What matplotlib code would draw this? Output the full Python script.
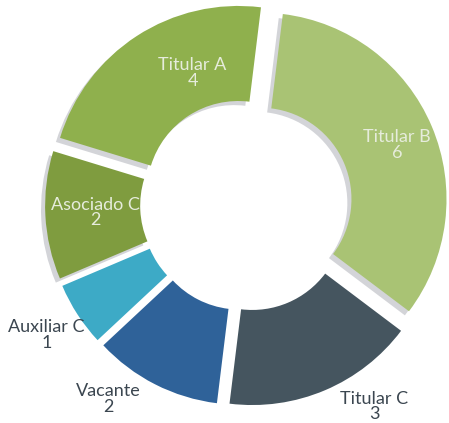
import numpy as np
import matplotlib.pyplot as plt

labels = ['Titular B', 'Titular C', 'Vacante', 'Auxiliar C', 'Asociado C', 'Titular A']
values = [6, 3, 2, 1, 2, 4]
colors = ['#A9C374', '#45555F', '#2F6299', '#3DAAC6', '#7F9C3F', '#8FB04D']
has_shadow = [True, False, False, False, True, True]
inside = [True, False, False, False, True, True]

start = 83
expl = 0.08
explode = [expl] * len(values)
ring = 0.51

fig = plt.figure(figsize=(4.49, 4.23), dpi=100)
ax = fig.add_axes([0, 0, 1, 1])

# soft grey shadow behind the green slices
shadow_cols = ['#D3D4D8' if s else 'none' for s in has_shadow]
ax.pie(values, colors=shadow_cols, startangle=start, counterclock=False,
       explode=explode, center=(-0.022, -0.022),
       wedgeprops=dict(width=ring, linewidth=0))

ax.pie(values, colors=colors, startangle=start, counterclock=False,
       explode=explode, wedgeprops=dict(width=ring, linewidth=0))

# label placement (angle nudge in degrees, distance from slice centre)
nudge = [-1.5, 10, -9, 0, 0, -12]
dist = [0.79, 1.2, 1.2, 1.2, 0.73, 0.685]
total = sum(values)
cum = np.cumsum(values)
for i, (lab, v) in enumerate(zip(labels, values)):
    mid = np.deg2rad(start - 360 * (cum[i] - v / 2) / total)
    cx, cy = expl * np.cos(mid), expl * np.sin(mid)
    ang = mid + np.deg2rad(nudge[i])
    col = '#E6ECDC' if inside[i] else '#3B4650'
    ax.text(cx + dist[i] * np.cos(ang), cy + dist[i] * np.sin(ang), f'{lab}\n{v}',
            ha='center', va='center', color=col, fontsize=13,
            family='Lato', linespacing=0.95)

ax.set_aspect('auto')
ax.set_xlim(-1.322, 1.087)
ax.set_ylim(-1.170, 1.099)
ax.axis('off')

fig.savefig('out.png', dpi=100)
